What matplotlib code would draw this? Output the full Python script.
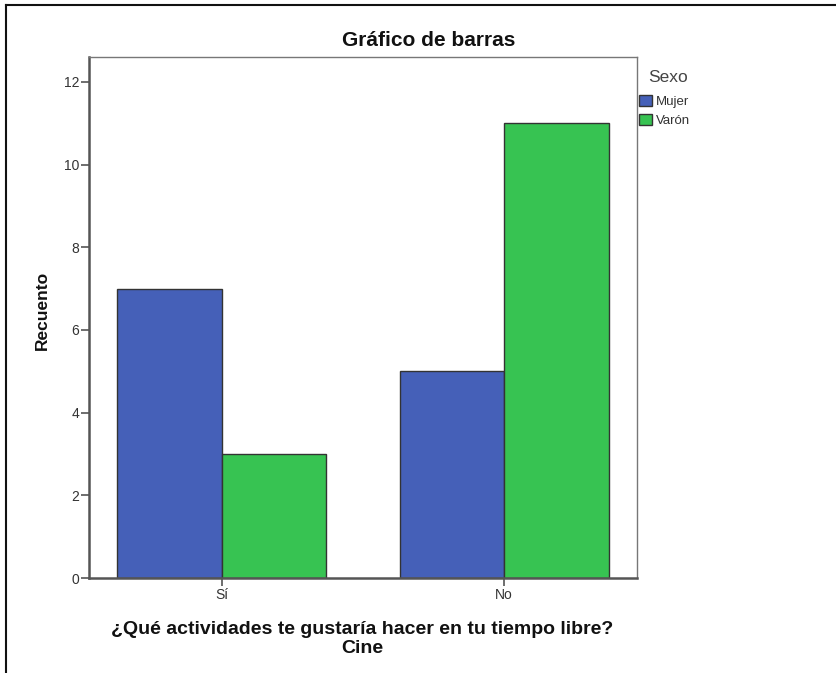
import matplotlib
matplotlib.use("Agg")
import matplotlib.pyplot as plt
from matplotlib.lines import Line2D
import numpy as np

categories = ["Sí", "No"]
series_names = ["Mujer", "Varón"]
mujer = [7, 5]
varon = [3, 11]
yticks = [0, 2, 4, 6, 8, 10, 12]
colors = ["#4560B8", "#37C352"]

plt.rcParams['font.family'] = ['Liberation Sans', 'DejaVu Sans']

fig = plt.figure(figsize=(8.37, 6.73), dpi=100)
ax = fig.add_axes([89/837, 1-578/673, 548/837, 521/673])

x = np.arange(len(categories))
w = 0.37
b1 = ax.bar(x - w/2, mujer, w, color=colors[0], edgecolor="#333333", linewidth=1.0, label=series_names[0])
b2 = ax.bar(x + w/2, varon, w, color=colors[1], edgecolor="#333333", linewidth=1.0, label=series_names[1])

ax.set_xlim(-0.47, 1.47)
ax.set_ylim(0, 12.6)
ax.set_yticks(yticks)
ax.set_yticklabels([str(t) for t in yticks], fontsize=10, color="#333333")
ax.set_xticks(x)
ax.set_xticklabels(categories, fontsize=10, color="#333333")
ax.tick_params(axis="both", direction="out", length=6, width=1.2, color="#555555", pad=1)
for s in ax.spines.values():
    s.set_color("#777777")
    s.set_linewidth(1.0)
ax.spines["left"].set_color("#555555")
ax.spines["left"].set_linewidth(1.8)
ax.spines["bottom"].set_color("#555555")
ax.spines["bottom"].set_linewidth(1.8)
ax.set_facecolor("white")

fig.text(429/837, 1-40/673, "Gráfico de barras", ha="center", va="center",
         fontsize=15, fontweight="bold", color="#111111")
fig.text(42/837, 1-310/673, "Recuento", ha="center", va="center", rotation=90,
         fontsize=12.5, fontweight="bold", color="#111111")
fig.text(362/837, 1-639/673, "¿Qué actividades te gustaría hacer en tu tiempo libre?\nCine",
         ha="center", va="center", fontsize=14, fontweight="bold", color="#111111",
         linespacing=1.1)

fig.text(648/837, 1-77/673, "Sexo", ha="left", va="center", fontsize=12.5, color="#444444")
leg = ax.legend(handles=[b1, b2], loc="upper left",
                bbox_to_anchor=(639/837, 1-95/673), bbox_transform=fig.transFigure,
                frameon=False, fontsize=9.5,
                handlelength=1.0, handleheight=0.9, handletextpad=0.25,
                labelspacing=0.45, borderpad=0, borderaxespad=0)
for t in leg.get_texts():
    t.set_color("#333333")

# outer frame (top and left lines)
fig.add_artist(Line2D([6/837, 1.0], [1-5/673, 1-5/673], transform=fig.transFigure, color="#111111", linewidth=1.5))
fig.add_artist(Line2D([6/837, 6/837], [0.0, 1-5/673], transform=fig.transFigure, color="#111111", linewidth=1.5))

fig.savefig("out.png", dpi=100, facecolor="white")
